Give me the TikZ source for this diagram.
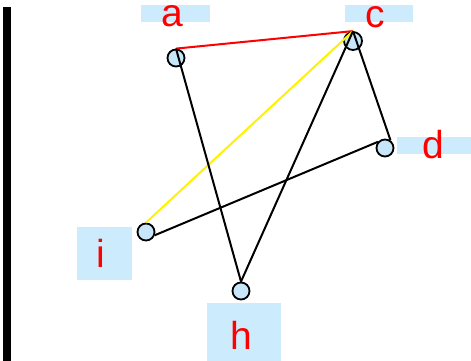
\documentclass[tikz,border=0pt]{standalone}
\usepackage{fontspec}
\setmainfont{Liberation Sans}
\definecolor{lblue}{RGB}{204,235,252}
\definecolor{nblue}{RGB}{200,230,250}
\definecolor{lred}{RGB}{255,0,0}
\begin{document}
\begin{tikzpicture}[x=1pt,y=-1pt,
  vert/.style={circle,draw=black,fill=nblue,line width=1.8pt,minimum size=17pt,inner sep=0pt},
  bgbox/.style={fill=lblue,inner sep=0pt,anchor=north west},
  lab/.style={text=lred,font=\fontsize{39}{39}\selectfont,anchor=base,inner sep=0pt},
  edge/.style={line width=2pt}]
\useasboundingbox (0,0) rectangle (471,361);
\fill[white] (0,0) rectangle (471,361);
\coordinate (bartop) at (7,7);
\coordinate (barbot) at (7,361);
\draw[line width=8pt] (bartop) -- (barbot);
% label backgrounds
\node[bgbox,minimum width=69pt,minimum height=17pt] (abg) at (141,5) {};
\node[bgbox,minimum width=68pt,minimum height=17pt] (cbg) at (345,5) {};
\node[bgbox,minimum width=74pt,minimum height=17pt] (dbg) at (397,137) {};
\node[bgbox,minimum width=55pt,minimum height=53pt] (ibg) at (77,227) {};
\node[bgbox,minimum width=74pt,minimum height=58pt] (hbg) at (207,303) {};
% labels
\node[lab] (alab) at (172,27) {a};
\node[lab] (clab) at (375,28) {c};
\node[lab] (dlab) at (433,158) {d};
\node[lab] (ilab) at (101,267) {i};
\node[lab] (hlab) at (241,349) {h};
% vertices
\node[vert] (a) at (176,58) {};
\node[vert,minimum size=18pt] (c) at (353,41) {};
\node[vert] (d) at (385,148) {};
\node[vert] (i) at (146,232) {};
\node[vert] (h) at (241,291) {};
% edges
\draw[edge,red] (a.north) -- (c.north);
\draw[edge,yellow] (c.north) -- (i.north);
\draw[edge] (a.north) -- (h.north);
\draw[edge] (c.north) -- (h.north);
\draw[edge] (c.north) -- (d.54);
\draw[edge] (d.139) -- (i.-20);
\end{tikzpicture}
\end{document}
